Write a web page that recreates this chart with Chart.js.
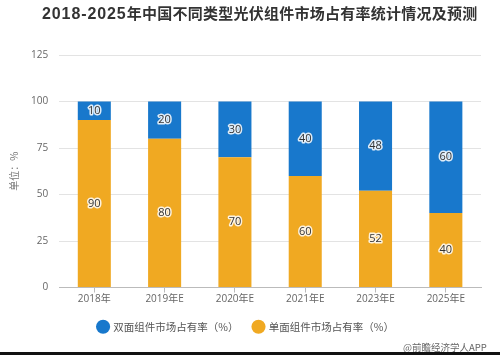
<!DOCTYPE html>
<html><head><meta charset="utf-8">
<script src="https://cdn.jsdelivr.net/npm/chart.js@4/dist/chart.umd.min.js"></script>
<style>
html,body{margin:0;padding:0;background:#fff;}
#wrap{position:relative;width:500px;height:355px;overflow:hidden;}
#c{position:absolute;left:0;top:0;}
#title{position:absolute;left:42px;top:3px;font:bold 15px "Noto Sans CJK SC",sans-serif;color:#333;white-space:nowrap;line-height:20px;letter-spacing:0.25px;}
#title .num{font-family:"Liberation Sans",sans-serif;font-size:16px;letter-spacing:0.9px;}
#mark{position:absolute;left:403px;top:340px;font:9.5px "Noto Sans CJK SC",sans-serif;color:#666;}
#bar{position:absolute;left:0;right:0;top:352px;height:3px;background:#111;}
</style></head>
<body><div id="wrap"><canvas id="c" width="500" height="355"></canvas>
<div id="title"></div>
<div id="mark">@前瞻经济学人APP</div><div id="bar"></div></div>
<script>
const categories = ["2018年","2019年E","2020年E","2021年E","2023年E","2025年E"];
const singleShare = [90,80,70,60,52,40];
const bifacialShare = [10,20,30,40,48,60];
const yTicks = [0,25,50,75,100,125];
const titleYears = "2018-2025";
const titleRest = "年中国不同类型光伏组件市场占有率统计情况及预测";

const t = document.getElementById('title');
const sp = document.createElement('span'); sp.className='num'; sp.textContent=titleYears;
t.appendChild(sp); t.appendChild(document.createTextNode(titleRest));

const labelPlugin = {
  id:'barLabels',
  afterLayout(chart){
    if(chart.legend){ chart.legend.left += 6; chart.legend.right += 6; }
  },
  afterDatasetsDraw(chart){
    const ctx = chart.ctx;
    ctx.save();
    ctx.font = '11px "Open Sans","Noto Sans",sans-serif';
    ctx.textAlign='center'; ctx.textBaseline='middle';
    chart.data.datasets.forEach((ds,i)=>{
      const meta = chart.getDatasetMeta(i);
      meta.data.forEach((bar,j)=>{
        const y = (bar.y + bar.base)/2;
        const s = String(ds.data[j]);
        ctx.lineWidth=3; ctx.strokeStyle='rgba(255,255,255,0.85)'; ctx.lineJoin='round';
        ctx.strokeText(s,bar.x,y);
        ctx.fillStyle='#333';
        ctx.fillText(s,bar.x,y);
      });
    });
    ctx.restore();
  }
};

new Chart(document.getElementById('c'),{
  type:'bar',
  data:{labels:categories,datasets:[
    {label:'单面组件市场占有率（%）',data:singleShare,backgroundColor:'#f0a922',borderWidth:0},
    {label:'双面组件市场占有率（%）',data:bifacialShare,backgroundColor:'#1878cc',borderWidth:0}
  ]},
  options:{
    responsive:false,animation:false,
    layout:{padding:{left:-1,right:19,top:55,bottom:13}},
    datasets:{bar:{categoryPercentage:0.94,barPercentage:0.5}},
    scales:{
      x:{stacked:true,
        grid:{display:true,drawOnChartArea:false,drawTicks:true,tickLength:5,offset:false,color:'#bbb'},
        border:{display:true,color:'#bbb'},
        ticks:{color:'#666',font:{size:10,family:'"Open Sans","Noto Sans CJK SC",sans-serif'},padding:1}},
      y:{stacked:true,min:0,max:125,
        afterBuildTicks(ax){ax.ticks=yTicks.map(v=>({value:v}));},
        grid:{color:'#e3e3e3',drawTicks:false},
        border:{display:false},
        ticks:{color:'#666',font:{size:10,family:'"Open Sans",sans-serif'},padding:11},
        title:{display:true,text:'单位：%',color:'#777',font:{size:10,family:'"Noto Sans CJK SC",sans-serif'},padding:{top:9,bottom:0}}}
    },
    plugins:{
      title:{display:false},
      legend:{position:'bottom',reverse:true,
        labels:{usePointStyle:true,pointStyle:'circle',boxWidth:10,boxHeight:10,padding:15,color:'#555',font:{size:10.5,family:'"Noto Sans CJK SC",sans-serif'}}},
      tooltip:{enabled:false}
    }
  },
  plugins:[labelPlugin]
});
</script></body></html>
